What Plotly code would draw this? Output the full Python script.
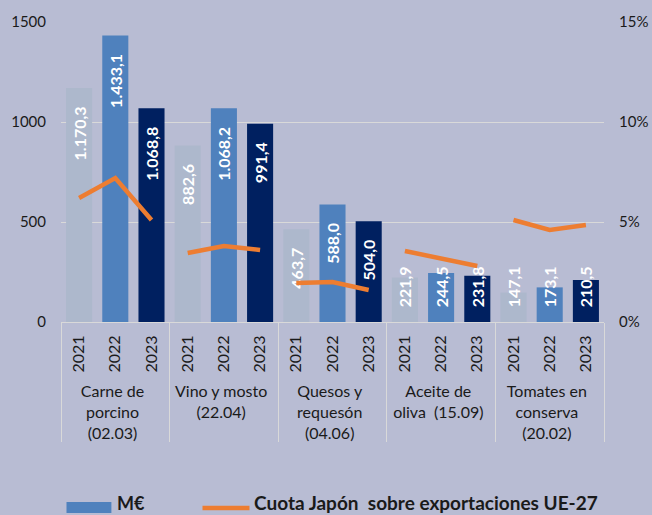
import plotly.graph_objects as go

categories = ["Carne de<br>porcino<br>(02.03)", "Vino y mosto<br>(22.04)",
              "Quesos y<br>requesón<br>(04.06)", "Aceite de<br>oliva\u00a0 (15.09)",
              "Tomates en<br>conserva<br>(20.02)"]
years = ["2021", "2022", "2023"]
values_2021 = [1170.3, 882.6, 463.7, 221.9, 147.1]
values_2022 = [1433.1, 1068.2, 588.0, 244.5, 173.1]
values_2023 = [1068.8, 991.4, 504.0, 231.8, 210.5]
share_2021 = [6.2, 3.45, 1.95, 3.55, 5.1]
share_2022 = [7.2, 3.8, 2.0, 3.15, 4.6]
share_2023 = [5.1, 3.6, 1.6, 2.8, 4.85]
left_ticks = [0, 500, 1000, 1500]
right_ticks = [0, 5, 10, 15]
right_tick_labels = ["0%", "5%", "10%", "15%"]

year_colors = {"2021": "#adb8cc", "2022": "#4f81bd", "2023": "#002060"}
BG = "#b8bcd3"
GRID = "#d9d9d9"
FONT = "Lato"
PAD_END = "\u00a0" * 4
PAD_START = "\u00a0" * 3


def fmt(v):
    s = f"{v:,.1f}"
    return s.replace(",", "X").replace(".", ",").replace("X", ".")


values = {"2021": values_2021, "2022": values_2022, "2023": values_2023}
shares = {"2021": share_2021, "2022": share_2022, "2023": share_2023}

big = {"c": [], "y": [], "v": [], "col": [], "t": []}
small = {"c": [], "y": [], "v": [], "col": [], "t": []}
for i, cat in enumerate(categories):
    for yr in years:
        v = values[yr][i]
        d = big if v >= 300 else small
        d["c"].append(cat)
        d["y"].append(yr)
        d["v"].append(v)
        d["col"].append(year_colors[yr])
        d["t"].append(fmt(v) + PAD_END if v >= 300 else PAD_START + fmt(v))

fig = go.Figure()
for d, anchor, constraint in [(big, "end", "inside"), (small, "start", "none")]:
    fig.add_trace(go.Bar(
        x=[d["c"], d["y"]], y=d["v"], marker=dict(color=d["col"], line=dict(width=0)),
        text=d["t"], textposition="inside", insidetextanchor=anchor,
        constraintext=constraint, textangle=-90,
        textfont=dict(family=FONT, size=16, color="white", weight="bold"),
        showlegend=False, hoverinfo="skip",
    ))

for i, cat in enumerate(categories):
    fig.add_trace(go.Scatter(
        x=[[cat] * 3, years], y=[shares[yr][i] for yr in years], yaxis="y2",
        mode="lines", line=dict(color="#ed7d31", width=4.5),
        showlegend=False, hoverinfo="skip",
    ))

# manual legend
fig.add_shape(type="rect", xref="paper", yref="paper", x0=0.0101, x1=0.0928,
              y0=-0.637, y1=-0.6, fillcolor="#4f81bd", line=dict(width=0))
fig.add_annotation(xref="paper", yref="paper", x=0.1013, y=-0.6433, text="<b>M€</b>",
                   showarrow=False, xanchor="left", yanchor="bottom", borderpad=0,
                   font=dict(family=FONT, size=18, color="#1a1a1a"))
fig.add_shape(type="line", xref="paper", yref="paper", x0=0.2606, x1=0.3471,
              y0=-0.62, y1=-0.62, line=dict(color="#ed7d31", width=4.5))
fig.add_annotation(xref="paper", yref="paper", x=0.3536, y=-0.6433,
                   text="<b>Cuota Japón\u00a0 sobre exportaciones UE-27</b>",
                   showarrow=False, xanchor="left", yanchor="bottom", borderpad=0,
                   font=dict(family=FONT, size=19, color="#1a1a1a"))

fig.update_layout(
    width=652, height=515,
    margin=dict(l=61, r=48, t=22, b=193, autoexpand=False),
    paper_bgcolor=BG, plot_bgcolor=BG,
    barmode="overlay", bargap=0.28,
    font=dict(family=FONT, size=15, color="#1a1a1a"),
    xaxis=dict(type="multicategory", tickangle=-90, showdividers=True,
               dividercolor=GRID, dividerwidth=1, showline=True, linecolor=GRID,
               linewidth=1, ticks="", showgrid=False, automargin=False,
               ticklabelstandoff=6,
               tickfont=dict(family=FONT, size=16, color="#1a1a1a")),
    yaxis=dict(range=[0, 1500], tickmode="array", tickvals=left_ticks, showgrid=True,
               gridcolor=GRID, gridwidth=1, zeroline=False, showline=False,
               automargin=False,
               ticklabelstandoff=14, tickfont=dict(family=FONT, size=15)),
    yaxis2=dict(range=[0, 15], tickmode="array", tickvals=right_ticks,
                ticktext=right_tick_labels,
                overlaying="y", side="right", showgrid=False, zeroline=False,
                automargin=False,
                showline=False, ticklabelstandoff=14, tickfont=dict(family=FONT, size=15)),
)

fig.write_html("out.html", config={"displayModeBar": False},
               post_script="document.body.style.margin='0';"
                           "document.body.style.overflow='hidden';")
